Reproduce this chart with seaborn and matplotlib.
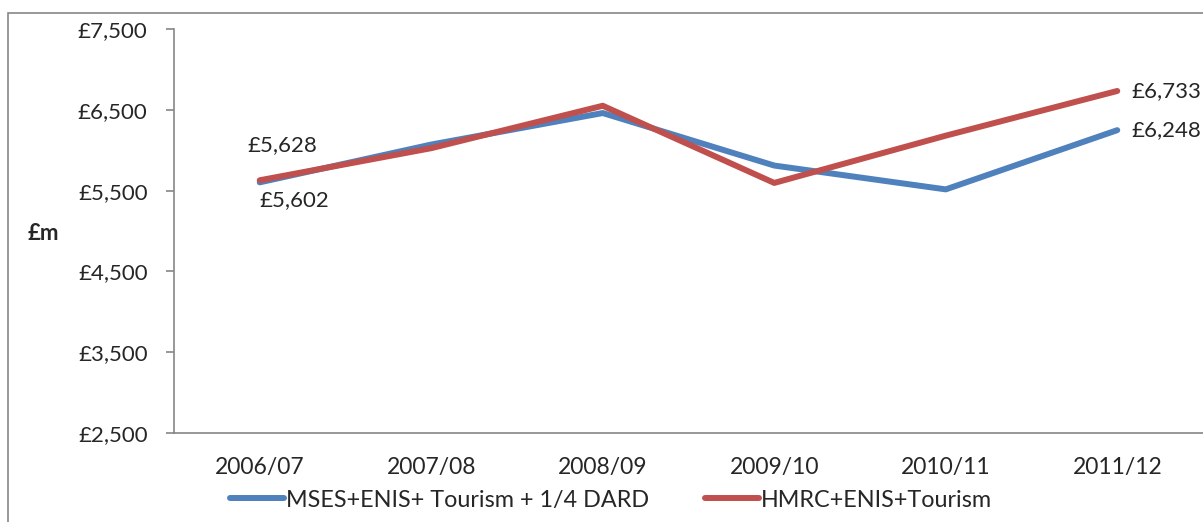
import matplotlib
matplotlib.use("Agg")
import matplotlib.pyplot as plt
import matplotlib.patches as mpatches
import seaborn as sns
import pandas as pd

years = ["2006/07", "2007/08", "2008/09", "2009/10", "2010/11", "2011/12"]
series_blue_name = "MSES+ENIS+ Tourism + 1/4 DARD"
series_red_name = "HMRC+ENIS+Tourism"
blue_values = [5602, 6070, 6460, 5810, 5515, 6248]
red_values = [5628, 6025, 6550, 5595, 6180, 6733]
y_ticks = [2500, 3500, 4500, 5500, 6500, 7500]

df = pd.DataFrame({
    "year": years * 2,
    "value": blue_values + red_values,
    "series": [series_blue_name] * len(years) + [series_red_name] * len(years),
})

sns.set_style("white")
plt.rcParams["font.family"] = ["Lato", "DejaVu Sans"]

FS = 16
W, H = 1203, 522
fig = plt.figure(figsize=(W / 100, H / 100), dpi=100)
ax = fig.add_axes([174 / W, 1 - 433 / H, (1203 - 174) / W, (433 - 29) / H])

# outer chart border
fig.patches.append(mpatches.Rectangle((8 / W, -0.1), 1.2, 1 - 13 / H + 0.1,
                                      transform=fig.transFigure, fill=False,
                                      edgecolor="#868686", linewidth=1.2))

palette = {series_blue_name: "#4F81BD", series_red_name: "#C0504D"}
sns.lineplot(data=df, x="year", y="value", hue="series", palette=palette,
             linewidth=4.3, ax=ax, sort=False, legend=True)

ax.set_xlim(-0.5, len(years) - 0.5)
ax.set_ylim(2500, 7500)
ax.set_yticks(y_ticks)
ax.set_yticklabels([f"£{v:,}" for v in y_ticks], fontsize=FS)
ax.set_xticks(range(len(years)))
ax.set_xticklabels(years, fontsize=FS + 0.5)
ax.tick_params(axis="x", length=0, pad=17)
# boundary tick marks for categories
ax.set_xticks([i - 0.5 for i in range(len(years) + 1)], minor=True)
ax.tick_params(axis="x", which="minor", length=6, color="#868686", width=1.2)
ax.tick_params(axis="y", length=6, color="#868686", width=1.2, pad=13, left=True)
ax.set_xlabel("")
ax.set_ylabel("")
for s in ["top", "right"]:
    ax.spines[s].set_visible(False)
for s in ["left", "bottom"]:
    ax.spines[s].set_color("#868686")
    ax.spines[s].set_linewidth(1.2)

fig.text(28 / W, 1 - 233 / H, "£m", fontsize=FS, fontweight="bold", va="center", ha="left")

# data labels
ax.annotate(f"£{red_values[0]:,}", (0, red_values[0]), xytext=(-9, 25),
            textcoords="offset points", fontsize=FS, ha="left", va="center")
ax.annotate(f"£{blue_values[0]:,}", (0, blue_values[0]), xytext=(0, -13),
            textcoords="offset points", fontsize=FS, ha="left", va="center")
ax.annotate(f"£{red_values[-1]:,}", (5, red_values[-1]), xytext=(10, 0),
            textcoords="offset points", fontsize=FS, ha="left", va="center",
            annotation_clip=False)
ax.annotate(f"£{blue_values[-1]:,}", (5, blue_values[-1]), xytext=(10, 0),
            textcoords="offset points", fontsize=FS, ha="left", va="center",
            annotation_clip=False)

leg = ax.legend(loc="center", bbox_to_anchor=(0.425, -0.166), ncol=2,
                frameon=False, fontsize=16.8, handlelength=2.3, handletextpad=0.1,
                columnspacing=2.4, borderaxespad=0, borderpad=0)
for line in leg.get_lines():
    line.set_linewidth(4.3)

fig.savefig("out.png", dpi=100)
